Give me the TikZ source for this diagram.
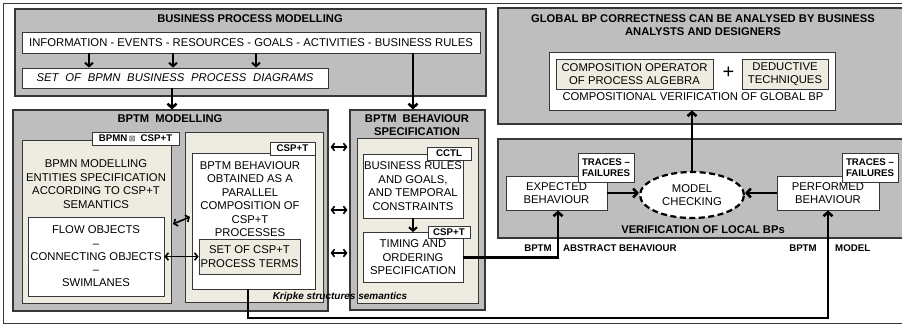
\documentclass[tikz,border=0pt]{standalone}
\usepackage{fontspec}
\setmainfont{Liberation Sans}
\newfontfamily\symfont{DejaVu Sans}
\usetikzlibrary{arrows.meta,shapes.geometric}

\definecolor{boxgray}{RGB}{190,190,190}
\definecolor{edgegray}{RGB}{55,55,55}
\definecolor{beige}{RGB}{238,236,225}

\tikzset{
  body/.style={font=\fontsize{11.3}{13.5}\selectfont, align=center},
  boxbase/.style={rectangle, inner sep=0pt, draw=edgegray, line width=0.9pt, body},
  graybox/.style={boxbase, fill=boxgray, line width=1.1pt},
  beigebox/.style={boxbase, fill=beige},
  whitebox/.style={boxbase, fill=white},
  tagbox/.style={boxbase, fill=white, line width=1pt,
    font=\fontsize{9.7}{11}\selectfont\bfseries},
  title/.style={font=\fontsize{11.2}{13}\selectfont\bfseries, align=center, inner sep=0pt},
  sublabel/.style={font=\fontsize{9.7}{11}\selectfont\bfseries, inner sep=0pt},
  flowarrow/.style={line width=2pt, -{Straight Barb[length=3.5pt,width=8pt]}},
  mainarrow/.style={line width=2.6pt, -{Straight Barb[length=4pt,width=9pt]}},
  bothways/.style={line width=1.6pt, {Straight Barb[length=3pt,width=7.5pt]}-{Straight Barb[length=3pt,width=7.5pt]}},
}

\begin{document}
\begin{tikzpicture}[x=1pt,y=-1pt]
\useasboundingbox (0,0) rectangle (902,327);
\begin{scope}
\clip (0,0) rectangle (902,327);
\fill[white] (0,0) rectangle (902,327);
\draw[edgegray, line width=0.9pt] (3,3) rectangle (908,323);

% ---------- Business process modelling ----------
\node[graybox, minimum width=471pt, minimum height=87pt] (bpm) at (250.5,52.5) {};
\node[title] (bpmtitle) at (250,19) {BUSINESS PROCESS MODELLING};
\node[whitebox, minimum width=458pt, minimum height=21pt] (info) at (251,42.5)
  {INFORMATION - EVENTS - RESOURCES - GOALS - ACTIVITIES - BUSINESS RULES};
\node[whitebox, minimum width=306pt, minimum height=20pt, font=\fontsize{11.3}{13}\selectfont\itshape] (diagrams) at (175,78)
  {SET\hspace{6.8pt}OF\hspace{6.8pt}BPMN\hspace{6.8pt}BUSINESS\hspace{6.8pt}PROCESS\hspace{6.8pt}DIAGRAMS};
\foreach \x in {89,173,256}
  \draw[flowarrow] (info.south -| \x,0) -- (diagrams.north -| \x,0);

% ---------- BPTM modelling ----------
\node[graybox, minimum width=315pt, minimum height=201pt] (bptm) at (170.5,210.5) {};
\node[title] (bptmtitle) at (170,119) {BPTM\hspace{6pt}MODELLING};

\node[beigebox, minimum width=149pt, minimum height=163pt] (entities) at (96.5,221.5) {};
\node[tagbox, minimum width=87pt, minimum height=13pt] (tagbpmn) at (135.5,138.5)
  {BPMN\,{\symfont\fontsize{8}{8}\selectfont\color{gray!80!black}⊠}\hspace{5pt}CSP+T};
\node[body, inner sep=0pt] (entitiestext) at (96,184)
  {BPMN MODELLING\\ENTITIES SPECIFICATION\\ACCORDING TO CSP+T\\SEMANTICS};
\node[whitebox, minimum width=136pt, minimum height=79pt, font=\fontsize{11.3}{13.3}\selectfont] (flow) at (96,256.5)
  {FLOW OBJECTS\\–\\CONNECTING OBJECTS\\–\\SWIMLANES};

\node[beigebox, minimum width=138pt, minimum height=170pt] (composition) at (254,217) {};
\node[whitebox, minimum width=123pt, minimum height=136pt] (behaviour) at (253.5,221) {};
\node[tagbox, minimum width=45pt, minimum height=13pt] (tagcsp) at (292.5,148.5) {CSP+T};
\node[body, inner sep=0pt] (behaviourtext) at (250,199)
  {BPTM BEHAVIOUR\\OBTAINED AS A\\PARALLEL\\COMPOSITION OF\\CSP+T\\PROCESSES};
\node[beigebox, minimum width=101pt, minimum height=35pt] (terms) at (249.5,256.5)
  {SET OF CSP+T\\PROCESS TERMS};

% ---------- BPTM behaviour specification ----------
\node[graybox, minimum width=135pt, minimum height=200pt] (spec) at (417.5,210) {};
\node[title] (spectitle) at (417,125.5) {BPTM\hspace{6pt}BEHAVIOUR\\SPECIFICATION};
\node[beigebox, minimum width=121pt, minimum height=165pt] (specinner) at (417.5,220.5) {};
\node[whitebox, minimum width=100pt, minimum height=64pt] (rules) at (413,186)
  {BUSINESS RULES\\AND GOALS,\\AND TEMPORAL\\CONSTRAINTS};
\node[tagbox, minimum width=44pt, minimum height=13pt] (tagcctl) at (449,153.5) {CCTL};
\node[whitebox, minimum width=100pt, minimum height=50pt] (timing) at (413,257.5)
  {TIMING AND\\ORDERING\\SPECIFICATION};
\node[tagbox, minimum width=42pt, minimum height=12pt] (tagtiming) at (449,232.5) {CSP+T};
\draw[flowarrow] (rules.south) -- (timing.north);

\node[font=\fontsize{10}{11}\selectfont\bfseries\itshape, inner sep=0pt] (kripke) at (340,297)
  {Kripke structures semantics};

% ---------- Global BP correctness ----------
\node[graybox, minimum width=410pt, minimum height=116pt] (global) at (703,66) {};
\node[title] (globaltitle) at (703,25.5)
  {GLOBAL BP CORRECTNESS CAN BE ANALYSED BY BUSINESS\\ANALYSTS AND DESIGNERS};
\node[whitebox, minimum width=286pt, minimum height=58pt] (compverif) at (692,81) {};
\node[beigebox, minimum width=157pt, minimum height=30pt] (operator) at (634.5,74)
  {COMPOSITION OPERATOR\\OF PROCESS ALGEBRA};
\node[beigebox, minimum width=86pt, minimum height=30pt] (deductive) at (785,74)
  {DEDUCTIVE\\TECHNIQUES};
\node[inner sep=0pt, font=\fontsize{20}{20}\selectfont] (plus) at (728.5,73) {+};
\node[body, inner sep=0pt] (compveriftext) at (693,97) {COMPOSITIONAL VERIFICATION OF GLOBAL BP};

% ---------- Verification of local BPs ----------
\node[graybox, minimum width=410pt, minimum height=99pt] (local) at (703,188.5) {};
\node[title] (localtitle) at (703,230) {VERIFICATION OF LOCAL BPs};
\node[whitebox, minimum width=101pt, minimum height=34pt] (expected) at (556.5,193)
  {EXPECTED\\BEHAVIOUR};
\node[tagbox, minimum width=56pt, minimum height=29pt, align=center] (tagexp) at (606,167.5)
  {TRACES –\\FAILURES};
\node[whitebox, minimum width=102pt, minimum height=34pt] (performed) at (828,193)
  {PERFORMED\\BEHAVIOUR};
\node[tagbox, minimum width=56pt, minimum height=29pt, align=center] (tagperf) at (870,167.5)
  {TRACES –\\FAILURES};
\node[ellipse, draw=black, fill=white, line width=2.2pt, dash pattern=on 6pt off 3.5pt,
      minimum width=104pt, minimum height=46pt, inner sep=0pt, body] (checking) at (692,195)
  {MODEL\\CHECKING};

\node[sublabel] (lblbptmA) at (538,248) {BPTM};
\node[sublabel, anchor=west] (lblabstract) at (563,248) {ABSTRACT BEHAVIOUR};
\node[sublabel] (lblbptmB) at (803,248) {BPTM};
\node[sublabel, anchor=west] (lblmodel) at (835,248) {MODEL};

% ---------- connectors ----------
\draw[mainarrow] (diagrams.south -| 172,0) -- (bptm.north -| 172,0);
\draw[mainarrow] (info.south -| 413,0) -- (spec.north -| 413,0);

\coordinate (rowA) at (0,147);
\coordinate (rowB) at (0,210);
\coordinate (rowC) at (0,253);
\foreach \r in {rowA,rowB,rowC}
  \draw[bothways, shorten <=2pt, shorten >=2pt] (bptm.east |- \r) -- (spec.west |- \r);

\coordinate (skewL) at (173,224);
\coordinate (skewR) at (190,217);
\draw[bothways] (skewL) -- (skewR);
\draw[bothways] (flow.east |- terms) -- (terms.west);

\draw[mainarrow] (timing.east) -| (expected.south -| 558,0);
\coordinate (bottomleft) at (248,318);
\draw[mainarrow] (behaviour.south -| bottomleft) -- (bottomleft) -| (performed.south);

\draw[mainarrow] (expected.east) -- (checking.west |- expected.east);
\draw[mainarrow] (performed.west) -- (checking.east |- performed.west);
\draw[mainarrow] (checking.north) -- (compverif.south -| checking.north);
\end{scope}
\end{tikzpicture}
\end{document}
